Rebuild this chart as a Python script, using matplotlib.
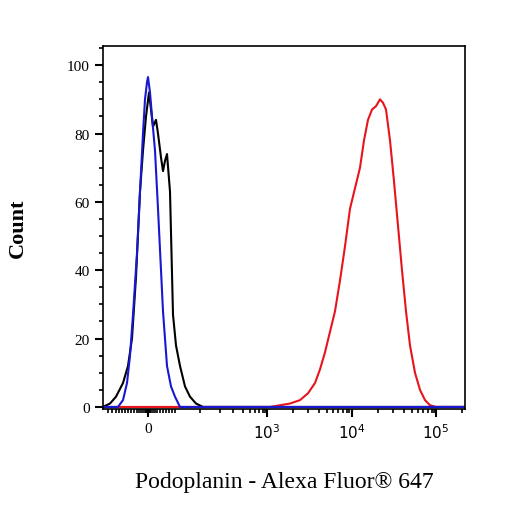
import matplotlib
matplotlib.use("Agg")
import matplotlib.pyplot as plt
from matplotlib.ticker import MultipleLocator, FixedLocator

# x in display-channel units (biexponential axis positions)
tick_pos = [148, 267, 352, 436]
tick_labels = ["0", "$10^3$", "$10^4$", "$10^5$"]
minor_pos = [108, 112, 116, 119, 122, 125, 128, 131, 134, 137, 139, 141, 143, 145, 146, 147,
             149, 150, 151, 153, 155, 157, 160, 163, 166, 169, 172, 175,
             200, 220, 233, 243, 250, 255, 259, 263, 265,
             293, 308, 319, 327, 333, 338, 343, 347, 349,
             378, 393, 404, 412, 418, 423, 428, 432, 434, 462]

blue_x = [103, 118, 123, 127, 130, 133, 137, 140, 143, 145, 147, 148, 150, 152, 155, 158, 160, 163, 167, 171, 175, 180, 465]
blue_y = [0, 0, 2, 7, 15, 27, 45, 63, 80, 90, 95, 96.5, 92, 85, 75, 58, 46, 28, 12, 6, 3, 0, 0]

black_x = [103, 110, 116, 123, 128, 132, 136, 140, 143, 146, 149, 151, 153, 156, 158, 161, 163, 165, 167, 170, 173, 176, 180, 185, 190, 196, 203, 465]
black_y = [0, 1, 3, 7, 12, 20, 38, 63, 75, 85, 92, 87, 82, 84, 80, 73, 69, 72, 74, 63, 27, 18, 12, 6, 3, 1, 0, 0]

red_x = [103, 270, 280, 290, 300, 308, 315, 320, 325, 330, 335, 340, 345, 350, 355, 360, 364, 368, 372, 376, 380, 383, 386, 390, 394, 398, 402, 406, 410, 415, 420, 425, 430, 436, 465]
red_y = [0, 0, 0.5, 1, 2, 4, 7, 11, 16, 22, 28, 37, 47, 58, 64, 70, 78, 84, 87, 88, 90, 89, 87, 78, 66, 53, 40, 28, 18, 10, 5, 2, 0.5, 0, 0]

fig = plt.figure(figsize=(5.06, 5.06), dpi=100)
ax = fig.add_axes([103/506, 1-410/506, 362/506, 363/506])
ax.plot(red_x, red_y, color="#e8141c", lw=1.5)
ax.plot(black_x, black_y, color="black", lw=1.5)
ax.plot(blue_x, blue_y, color="#1818d0", lw=1.5)
ax.set_xlim(103, 465)
ax.set_ylim(-0.6, 105.6)
for s in ax.spines.values():
    s.set_linewidth(1.2)
ax.xaxis.set_major_locator(FixedLocator(tick_pos))
ax.set_xticklabels(tick_labels)
ax.xaxis.set_minor_locator(FixedLocator(minor_pos))
ax.yaxis.set_major_locator(MultipleLocator(20))
ax.yaxis.set_minor_locator(MultipleLocator(5))
ax.tick_params(which="major", length=6, width=1.5, labelsize=11)
ax.tick_params(which="minor", length=3, width=1.2)
for lab in ax.get_xticklabels() + ax.get_yticklabels():
    lab.set_family("Liberation Serif")
ax.set_xlabel("Podoplanin - Alexa Fluor® 647", family="Liberation Serif", fontsize=17, labelpad=22)
ax.set_ylabel("Count", family="Liberation Serif", fontsize=16, fontweight="bold", labelpad=28)
fig.savefig("out.png", dpi=100)
